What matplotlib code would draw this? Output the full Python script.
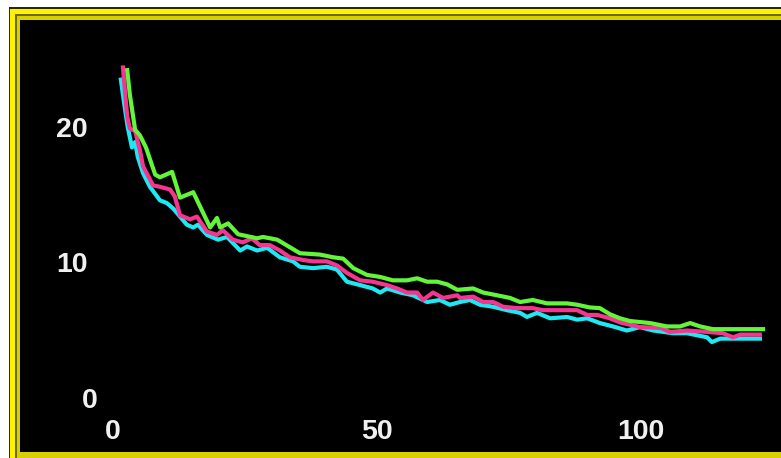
import matplotlib.pyplot as plt
import matplotlib.transforms as mtransforms
from matplotlib.patches import Rectangle

# values
cyan_x = [1.5, 2.1, 2.8, 3.6, 4.2, 4.7, 5.7, 7.0, 8.9, 10.2, 11.4, 12.7, 14.0, 15.2, 16.1,
          17.8, 19.9, 21.6, 24.1, 25.4, 27.3, 29.2, 31.6, 34.1, 35.4, 37.9, 40.5, 42.4,
          44.3, 46.8, 49.2, 50.6, 51.9, 54.4, 56.8, 59.5, 61.9, 63.8, 65.7, 67.6, 69.5,
          72.0, 74.6, 77.1, 78.4, 80.3, 82.8, 86.0, 87.9, 89.8, 92.2, 94.7, 97.3, 99.8,
          102.3, 106.1, 108.7, 112.5, 113.4, 115.0, 122.5]
cyan_y = [23.7, 22.0, 20.2, 18.7, 19.1, 18.0, 16.8, 15.8, 14.8, 14.6, 14.2, 13.6, 13.0, 12.8, 13.0,
          12.25, 11.9, 12.1, 11.1, 11.4, 11.1, 11.3, 10.6, 10.3, 9.9, 9.8, 9.9, 9.7,
          8.8, 8.55, 8.3, 8.0, 8.3, 8.0, 7.8, 7.3, 7.45, 7.1, 7.3, 7.45, 7.1,
          6.95, 6.7, 6.5, 6.2, 6.5, 6.1, 6.2, 6.0, 6.1, 5.75, 5.5, 5.2, 5.45,
          5.2, 5.0, 5.0, 4.7, 4.35, 4.6, 4.6]

pink_x = [1.9, 2.3, 2.7, 3.2, 4.2, 5.1, 5.7, 7.6, 8.9, 10.8, 11.7, 12.7, 14.6, 15.9, 17.8,
          19.7, 20.8, 22.7, 24.6, 26.3, 27.8, 29.7, 31.6, 33.5, 36.0, 37.9, 40.5, 42.4,
          44.3, 46.8, 49.2, 51.9, 53.8, 55.7, 57.6, 58.7, 60.6, 62.5, 65.2, 65.7, 68.2,
          70.1, 72.0, 73.9, 76.5, 79.5, 81.4, 87.9, 89.8, 91.7, 94.1, 96.0, 99.8, 103.6,
          105.5, 108.7, 112.5, 115.5, 117.4, 118.8, 122.5]
pink_y = [24.6, 22.7, 21.0, 20.1, 19.9, 18.5, 17.3, 15.9, 15.8, 15.6, 15.1, 13.7, 13.4, 13.6, 12.5,
          12.25, 12.6, 11.9, 11.7, 12.0, 11.5, 11.5, 11.1, 10.6, 10.4, 10.3, 10.3, 10.0,
          9.45, 8.9, 8.8, 8.55, 8.3, 8.0, 8.0, 7.45, 8.0, 7.6, 7.8, 7.6, 7.7,
          7.3, 7.3, 6.95, 6.85, 6.85, 6.7, 6.7, 6.35, 6.35, 6.1, 5.8, 5.45, 5.4,
          5.1, 5.2, 5.1, 5.0, 4.7, 4.9, 4.9]

green_x = [2.7, 3.2, 4.2, 5.1, 6.25, 8.0, 8.9, 11.2, 12.7, 15.2, 18.4, 19.7, 20.3, 21.8,
           23.7, 27.3, 28.4, 31.1, 35.4, 39.2, 41.7, 43.6, 45.5, 48.1, 50.6, 53.0, 55.7,
           57.6, 59.5, 61.4, 63.3, 65.2, 68.2, 70.1, 72.7, 75.2, 77.1, 79.5, 82.2, 86.0,
           87.9, 90.3, 92.2, 94.1, 96.0, 97.9, 101.7, 104.9, 107.4, 109.3, 111.2, 113.6, 123.1]
green_y = [24.4, 22.6, 20.0, 19.6, 18.7, 16.7, 16.5, 16.9, 15.0, 15.4, 12.8, 13.5, 12.8, 13.1,
           12.3, 12.0, 12.1, 11.9, 10.9, 10.8, 10.6, 10.5, 9.8, 9.3, 9.15, 8.9, 8.9,
           9.05, 8.8, 8.8, 8.6, 8.2, 8.3, 8.0, 7.8, 7.6, 7.3, 7.45, 7.2, 7.2,
           7.1, 6.9, 6.85, 6.4, 6.1, 5.9, 5.75, 5.5, 5.5, 5.75, 5.5, 5.3, 5.3]

x_ticks = [0, 50, 100]
y_ticks = [0, 10, 20]

W, H = 781, 458
fig = plt.figure(figsize=(W / 100, H / 100), dpi=100)
fig.patch.set_facecolor('white')

# yellow bevelled frame, drawn behind the axes
def px_rect(x0, y0, x1, y1, color):
    fig.patches.append(Rectangle((x0 / W, 1 - y1 / H), (x1 - x0) / W, (y1 - y0) / H,
                                 transform=fig.transFigure, facecolor=color,
                                 edgecolor='none', zorder=-5))

px_rect(9, 7, W + 5, H + 5, '#2a2a00')
px_rect(10, 8.5, W + 5, H + 5, '#fff200')
px_rect(14.5, 14, W + 5, H + 5, '#6e6a00')
px_rect(16.5, 16, W + 5, H + 5, '#d8d000')

ax = fig.add_axes([20 / W, 6 / H, (W - 20) / W, 432 / H])
ax.set_zorder(1)
ax.set_facecolor('black')
for s in ax.spines.values():
    s.set_visible(False)

ax.plot(cyan_x, cyan_y, color='#1ee8f2', lw=3.0, solid_joinstyle='round')
ax.plot(pink_x, pink_y, color='#f5358f', lw=3.0, solid_joinstyle='round')
ax.plot(green_x, green_y, color='#62f53a', lw=3.0, solid_joinstyle='round')

ax.set_xlim(-17.6, 126.5)
ax.set_ylim(-3.76, 28.1)
ax.set_xticks([])
ax.set_yticks([])

font = dict(family=['Liberation Sans', 'DejaVu Sans'], fontweight='bold',
            fontsize=20.5, color='#f0f0f0')

xt = mtransforms.blended_transform_factory(ax.transData, ax.transAxes)
for v in x_ticks:
    ax.text(v, 0.046, str(v), transform=xt, ha='center', va='center', **font)

yt = mtransforms.blended_transform_factory(ax.transAxes, ax.transData)
for v in y_ticks:
    xpos = 0.1025 if v == 0 else 0.0894
    ax.text(xpos, v, str(v), transform=yt, ha='right', va='center', **font)

fig.savefig('out.png', dpi=100, facecolor='white')
